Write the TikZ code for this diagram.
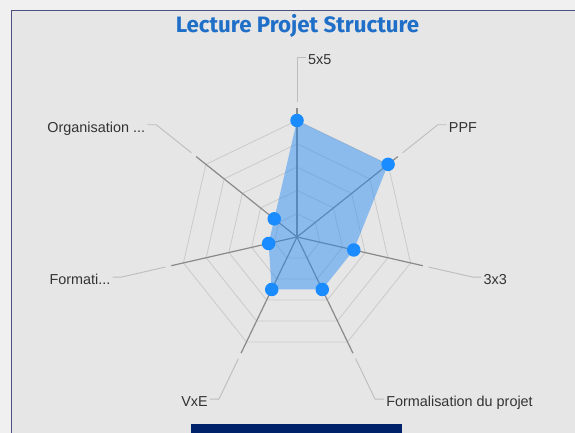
\documentclass[tikz,border=0pt]{standalone}
\usepackage{fontspec}
\setmainfont{Liberation Sans}
\newfontfamily\titlefont{Fira Sans}
\usepackage{xcolor}
\usepackage{tikz}
\usetikzlibrary{calc, positioning}
\definecolor{pagebg}{HTML}{F0F0F0}
\definecolor{chartbg}{HTML}{E6E6E6}
\definecolor{framecol}{HTML}{4B5180}
\definecolor{titleblue}{HTML}{1F6FC8}
\definecolor{gridgrey}{HTML}{CACACA}
\definecolor{axisgrey}{HTML}{8A8A8A}
\definecolor{leadergrey}{HTML}{BDBDBD}
\definecolor{labelgrey}{HTML}{333333}
\definecolor{areablue}{HTML}{1E88F5}
\definecolor{dotblue}{HTML}{1A8CFF}
\definecolor{barnavy}{HTML}{00226B}

\begin{document}
\begin{tikzpicture}[x=1pt, y=1pt,
		lbl/.style={text=labelgrey, font=\fontsize{14.4}{16}\selectfont, inner sep=2pt, text height=14.5pt, text depth=0pt},
		ringline/.style={gridgrey, line width=0.8pt},
		axisline/.style={axisgrey, line width=1.2pt},
		leader/.style={leadergrey, line width=0.9pt},
		dot/.style={circle, fill=dotblue, inner sep=0pt, minimum size=13.5pt}]
				\useasboundingbox (0,0) rectangle (575,-433);
				\fill[pagebg] (0,0) rectangle (575,-433);
				\fill[chartbg] (11,-11) rectangle (576,-434);
				\draw[framecol, line width=1pt] (11,-434) -- (11,-11) -- (576,-11);
				\fill[barnavy] (191,-424) rectangle (402,-434);
				
				\node[anchor=base, text=titleblue, font=\titlefont\bfseries\fontsize{22.3}{26}\selectfont] (title) at (297.5,-33) {Lecture Projet Structure};
				
				\begin{scope}[shift={(297,-237)}]
				%% rings
				\foreach \r in {1,...,5}
					\draw[ringline] (90:\r*23.3) \foreach \k in {1,...,6} { -- (90-\k*360/7:\r*23.3) } -- cycle;
				%% axes
				\coordinate (c) at (0,0);
				\foreach \k in {0,...,6} {
					\coordinate (ax\k) at (90-\k*360/7:129);
					\coordinate (ld\k) at (90-\k*360/7:135);
					\coordinate (el\k) at (90-\k*360/7:180);
					\draw[axisline] (c) -- (ax\k);
				}
				%% values
				\foreach \k/\v in {0/5, 1/5, 2/2.5, 3/2.5, 4/2.5, 5/1.25, 6/1.25}
					\coordinate (v\k) at (90-\k*360/7:\v*23.3);
				\fill[areablue, fill opacity=0.45] (v0) -- (v1) -- (v2) -- (v3) -- (v4) -- (v5) -- (v6) -- cycle;
				\foreach \k in {0,...,6}
					\node[dot] (pt\k) at (v\k) {};
				\end{scope}
				
				%% labels
				\node[lbl, anchor=west] (lb0) at ($(el0)+(9,0)$) {5x5};
				\node[lbl, anchor=west] (lb1) at ($(el1)+(9,0)$) {PPF};
				\node[lbl, anchor=west] (lb2) at ($(el2)+(9,0)$) {3x3};
				\node[lbl, anchor=west] (lb3) at ($(el3)+(9,0)$) {Formalisation du projet};
				\node[lbl, anchor=east] (lb4) at ($(el4)+(-9,0)$) {VxE};
				\node[lbl, anchor=east] (lb5) at ($(el5)+(-9,0)$) {Formati...};
				\node[lbl, anchor=east] (lb6) at ($(el6)+(-9,0)$) {Organisation ...};
				\foreach \k in {0,...,3}
					\draw[leader] (ld\k) -- (el\k) -- (lb\k.west);
				\foreach \k in {4,...,6}
					\draw[leader] (ld\k) -- (el\k) -- (lb\k.east);
\end{tikzpicture}
\end{document}
